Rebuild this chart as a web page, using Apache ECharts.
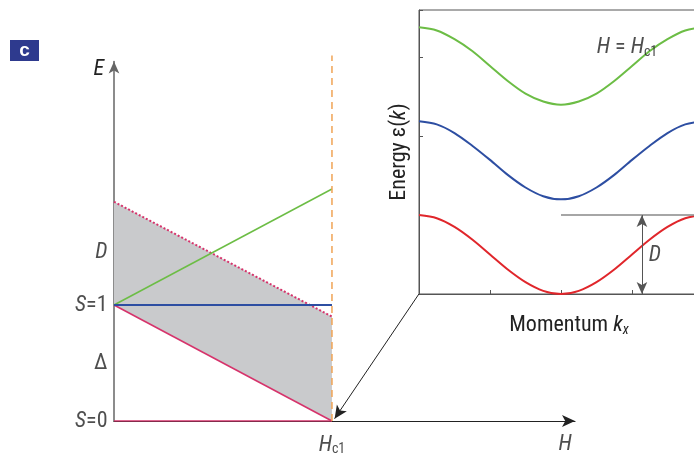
<!DOCTYPE html>
<html><head><meta charset="utf-8">
<script src="https://cdn.jsdelivr.net/npm/echarts@6/dist/echarts.min.js"></script>
<style>html,body{margin:0;padding:0;background:#fff}#c{width:694px;height:458px}</style>
</head><body><div id="c"></div>
<script>
// Field axis in units of Hc1 (0 and Hc1)
const fieldH = [0, 1];
// Energy levels against field
const levelS0 = [0, 0];
const levelS1Down = [1, 0];
const levelS1Flat = [1, 1];
const levelS1Up = [1, 2];
const continuumTop = [1.89, 0.90];
const hc1Marker = [0, 3.15];

// Band dispersion at H = Hc1
const kx = [-2, -1.75, -1.5, -1.25, -1, -0.75, -0.5, -0.25, 0, 0.25, 0.5, 0.75, 1, 1.25, 1.5, 1.75, 2];
const bandLow  = [1.00, 0.96, 0.85, 0.69, 0.50, 0.31, 0.15, 0.04, 0.00, 0.04, 0.15, 0.31, 0.50, 0.69, 0.85, 0.96, 1.00];
const bandMid  = [2.19, 2.15, 2.04, 1.88, 1.70, 1.51, 1.35, 1.24, 1.20, 1.24, 1.35, 1.51, 1.70, 1.88, 2.04, 2.15, 2.19];
const bandHigh = [3.38, 3.34, 3.23, 3.08, 2.89, 2.70, 2.54, 2.44, 2.40, 2.44, 2.54, 2.70, 2.89, 3.08, 3.23, 3.34, 3.38];

const FONT = '"Liberation Sans Narrow", "Roboto Condensed", "DejaVu Sans Condensed", "Liberation Sans", sans-serif';
const PINK = '#d6336b', GREEN = '#6cbd45', BLUE = '#2d4ea2', RED = '#e0262b', ORANGE = '#f0a455', GREY = '#c9cacc';

const pair = (xs, ys) => xs.map((x, i) => [x, ys[i]]);

const rich = {
  i: {fontFamily: FONT, fontSize: 22, fontStyle: 'italic', color: '#222'},
  r: {fontFamily: FONT, fontSize: 22, color: '#222'},
  s: {fontFamily: FONT, fontSize: 14, color: '#222', padding: [9, 0, 0, 0]},
  si: {fontFamily: FONT, fontSize: 14, fontStyle: 'italic', color: '#222', padding: [9, 0, 0, 0]}
};

const chart = echarts.init(document.getElementById('c'), null, {renderer: 'canvas'});
chart.setOption({
  animation: false,
  backgroundColor: '#fff',
  grid: [
    {left: 114, top: 61.4, width: 461, height: 359.6, outerBoundsMode: 'none'},
    {left: 419, top: 10, width: 284, height: 284, outerBoundsMode: 'none', show: true, borderColor: '#555', borderWidth: 1}
  ],
  xAxis: [
    {gridIndex: 0, type: 'value', min: 0, max: 2.115,
     axisLine: {show: true, onZero: false, lineStyle: {color: '#222', width: 1.2}, symbol: ['none', 'arrow'], symbolSize: [9, 13]},
     axisTick: {show: false}, axisLabel: {show: false}, splitLine: {show: false}},
    {gridIndex: 1, type: 'value', min: -2, max: 2, interval: 1,
     axisLine: {show: true, onZero: false, lineStyle: {color: '#555', width: 1}},
     axisTick: {show: true, inside: true, length: 4, lineStyle: {color: '#555'}},
     axisLabel: {show: false}, splitLine: {show: false},
     name: '{r|Momentum }{i|k}{si|x}', nameLocation: 'middle', nameGap: 20,
     nameTextStyle: {rich, padding: [0, 0, 0, 16]}}
  ],
  yAxis: [
    {gridIndex: 0, type: 'value', min: 0, max: 3.1,
     axisLine: {show: true, onZero: false, lineStyle: {color: '#666', width: 1.5}, symbol: ['none', 'arrow'], symbolSize: [8, 12]},
     axisTick: {show: false}, axisLabel: {show: false}, splitLine: {show: false},
     name: 'E', nameLocation: 'end', nameGap: -8,
     nameTextStyle: {fontFamily: FONT, fontSize: 22, fontStyle: 'italic', color: '#222', align: 'right', verticalAlign: 'middle', padding: [0, 10, 0, 0]}},
    {gridIndex: 1, type: 'value', min: 0, max: 3.6, interval: 1,
     axisLine: {show: true, onZero: false, lineStyle: {color: '#555', width: 1}},
     axisTick: {show: true, inside: true, length: 4, lineStyle: {color: '#555'}},
     axisLabel: {show: false}, splitLine: {show: false},
     name: '{r|Energy ε(}{i|k}{r|)}', nameLocation: 'middle', nameGap: 9, nameRotate: 90,
     nameTextStyle: {rich}}
  ],
  graphic: [{
    type: 'group', left: 10, top: 40,
    children: [
      {type: 'rect', shape: {x: 0, y: 0, width: 29, height: 21}, style: {fill: '#2e3a8e'}},
      {type: 'text', x: 14.5, y: 11, style: {text: 'c', fill: '#fff', font: 'bold 19px "Liberation Sans", sans-serif', align: 'center', verticalAlign: 'middle'}}
    ]
  }],
  series: [
    // grey region between the lower S=1 branch and the continuum edge
    {type: 'custom', xAxisIndex: 0, yAxisIndex: 0, data: [[0, 0]], z: 2,
     renderItem: (params, api) => {
       const pts = [
         [fieldH[0], continuumTop[0]], [fieldH[1], continuumTop[1]],
         [fieldH[1], levelS1Down[1]], [fieldH[0], levelS1Down[0]]
       ].map(p => api.coord(p));
       return {type: 'polygon', shape: {points: pts}, style: {fill: GREY}};
     }},
    {type: 'line', xAxisIndex: 0, yAxisIndex: 0, data: pair(fieldH, continuumTop), symbol: 'none',
     lineStyle: {color: PINK, width: 2, type: [2, 2]}, z: 3},
    {type: 'line', xAxisIndex: 0, yAxisIndex: 0, data: pair(fieldH, levelS1Down), symbol: 'none',
     lineStyle: {color: PINK, width: 1.6}, z: 4},
    {type: 'line', xAxisIndex: 0, yAxisIndex: 0, data: pair(fieldH, levelS1Up), symbol: 'none',
     lineStyle: {color: GREEN, width: 1.5}, z: 5},
    {type: 'line', xAxisIndex: 0, yAxisIndex: 0, data: pair(fieldH, levelS1Flat), symbol: 'none',
     lineStyle: {color: BLUE, width: 2.2}, z: 5},
    {type: 'line', xAxisIndex: 0, yAxisIndex: 0, data: pair(fieldH, levelS0), symbol: 'none',
     lineStyle: {color: PINK, width: 1.6}, z: 6},
    {type: 'line', xAxisIndex: 0, yAxisIndex: 0, data: [[fieldH[1], hc1Marker[0]], [fieldH[1], hc1Marker[1]]], symbol: 'none', clip: false,
     lineStyle: {color: ORANGE, width: 1.5, type: [7, 5]}, z: 7,
     markLine: {silent: true, symbol: ['none', 'arrow'], symbolSize: [9, 13],
       lineStyle: {color: '#222', width: 1, type: 'solid'}, label: {show: false},
       data: [[{coord: [1.399, 1.095]}, {coord: [1.012, 0.02]}]]}},
    // axis annotations
    {type: 'scatter', xAxisIndex: 0, yAxisIndex: 0, symbolSize: 1, itemStyle: {color: 'transparent'}, z: 8,
     data: [[0, 0, '{i|S}{r|=0}'], [0, 0.5, '{r|Δ}'], [0, 1, '{i|S}{r|=1}'], [0, 1.45, '{i|D}']],
     label: {show: true, position: 'left', distance: 6, rich, formatter: p => p.value[2]}},
    {type: 'scatter', xAxisIndex: 0, yAxisIndex: 0, symbolSize: 1, itemStyle: {color: 'transparent'}, z: 8,
     data: [[1, 0, '{i|H}{s|c1}'], [2.07, 0, '{i|H}']],
     label: {show: true, position: 'bottom', distance: 12, rich, formatter: p => p.value[2]}},
    // inset bands
    {type: 'line', xAxisIndex: 1, yAxisIndex: 1, data: pair(kx, bandHigh), smooth: 0.3, symbol: 'none',
     lineStyle: {color: GREEN, width: 2}},
    {type: 'line', xAxisIndex: 1, yAxisIndex: 1, data: pair(kx, bandMid), smooth: 0.3, symbol: 'none',
     lineStyle: {color: BLUE, width: 2}},
    {type: 'line', xAxisIndex: 1, yAxisIndex: 1, data: pair(kx, bandLow), smooth: 0.3, symbol: 'none',
     lineStyle: {color: RED, width: 2},
     markLine: {silent: true, label: {show: false}, animation: false,
       data: [
         [{coord: [0, 1], symbol: 'none', lineStyle: {color: '#888', width: 1.5, type: 'solid'}}, {coord: [2, 1], symbol: 'none'}],
         [{coord: [1.14, 0], symbol: 'arrow', symbolSize: [8, 12], lineStyle: {color: '#555', width: 1, type: 'solid'}}, {coord: [1.14, 1], symbol: 'arrow', symbolSize: [8, 12]}]
       ]}},
    {type: 'scatter', xAxisIndex: 1, yAxisIndex: 1, symbolSize: 1, itemStyle: {color: 'transparent'}, z: 8,
     data: [[1.32, 0.49, '{i|D}'], [0.93, 3.12, '{i|H}{r| = }{i|H}{s|c1}']],
     label: {show: true, position: 'inside', rich, formatter: p => p.value[2]}}
  ]
});
</script></body></html>
